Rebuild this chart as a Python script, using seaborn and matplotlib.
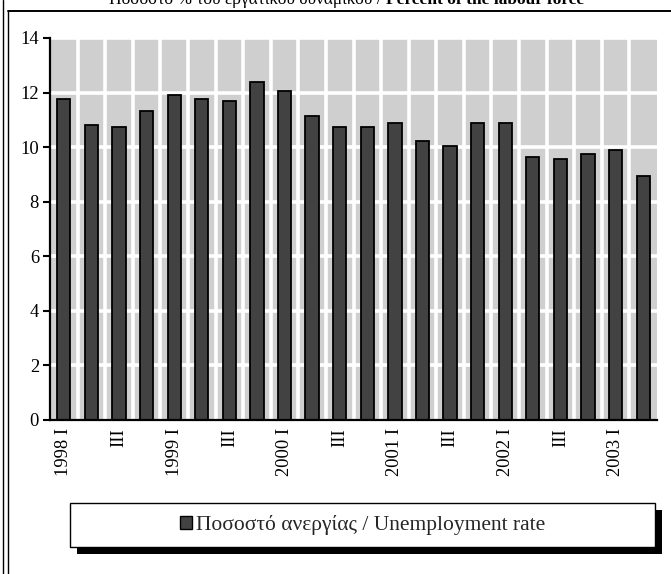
import matplotlib
matplotlib.use("Agg")
import matplotlib.pyplot as plt
import seaborn as sns
import pandas as pd
from matplotlib.patches import Rectangle
from matplotlib.lines import Line2D

quarters = ["1998 I", "1998 II", "1998 III", "1998 IV",
            "1999 I", "1999 II", "1999 III", "1999 IV",
            "2000 I", "2000 II", "2000 III", "2000 IV",
            "2001 I", "2001 II", "2001 III", "2001 IV",
            "2002 I", "2002 II", "2002 III", "2002 IV",
            "2003 I", "2003 II"]
rates = [11.75, 10.8, 10.72, 11.33, 11.9, 11.75, 11.68, 12.4, 12.07, 11.15,
         10.72, 10.72, 10.9, 10.22, 10.05, 10.9, 10.9, 9.63, 9.55, 9.75,
         9.88, 8.95]
tick_labels = ["1998 I", "", "III", "", "1999 I", "", "III", "",
               "2000 I", "", "III", "", "2001 I", "", "III", "",
               "2002 I", "", "III", "", "2003 I", ""]
title_gr = "Ποσοστό % του εργατικού δυναμικού / "
title_en = "Percent of the labour force"
legend_label = "Ποσοστό ανεργίας / Unemployment rate"

sns.set_theme(style="white")
plt.rcParams["font.family"] = ["Liberation Serif", "DejaVu Serif"]

W, H = 671, 574
fig = plt.figure(figsize=(W / 100, H / 100), dpi=100)
ax = fig.add_axes([50 / W, 1 - 420 / H, 607 / W, 382 / H])

df = pd.DataFrame({"q": quarters, "v": rates})
sns.barplot(data=df, x="q", y="v", color="#404040", width=0.48,
            edgecolor="black", linewidth=1.3, saturation=1, ax=ax, zorder=3)
for p in ax.patches:
    p.set_facecolor("#424242")
    p.set_edgecolor("black")

ax.set_facecolor("#cfcfcf")
ax.set_xlim(-0.5, len(quarters) - 0.5)
ax.set_ylim(0, 14)
ax.set_yticks(range(0, 15, 2))
ax.set_xticks(range(len(quarters)))
ax.set_xticklabels(tick_labels, rotation=90, fontsize=13.3)
ax.tick_params(axis="y", labelsize=13.3, length=5, width=1.5, direction="out",
               left=True, color="black", pad=3)
ax.tick_params(axis="x", length=0, pad=6)
ax.set_xlabel("")
ax.set_ylabel("")
for lbl in ax.get_xticklabels() + ax.get_yticklabels():
    lbl.set_color("black")

# white grid lines (horizontal at ticks, vertical between categories)
for yv in range(2, 15, 2):
    ax.axhline(yv, color="white", lw=2.6, zorder=1)
for i in range(len(quarters) - 1):
    ax.axvline(i + 0.5, color="white", lw=2.6, zorder=1)

for s in ["top", "right"]:
    ax.spines[s].set_visible(False)
for s in ["left", "bottom"]:
    ax.spines[s].set_color("black")
    ax.spines[s].set_linewidth(1.6)
    ax.spines[s].set_zorder(5)

# title (cut at top, as in the reference)
split_x = 386 / W
fig.text(split_x, 1 - 4 / H, title_gr, ha="right", va="baseline",
         fontsize=12.5, color="black")
fig.text(split_x, 1 - 4 / H, title_en, ha="left", va="baseline",
         fontsize=12.5, fontweight="bold", color="black")

# figure frame lines
fig.add_artist(Line2D([2.5 / W, 2.5 / W], [0, 1], color="black", lw=1.0, transform=fig.transFigure))
fig.add_artist(Line2D([7.5 / W, 7.5 / W], [0, 1 - 11 / H], color="black", lw=1.0, transform=fig.transFigure))
fig.add_artist(Line2D([7.5 / W, 1], [1 - 11 / H, 1 - 11 / H], color="black", lw=1.4, transform=fig.transFigure))

# legend box with shadow
lx0, lx1, ly0, ly1 = 70, 655, 503, 547
fig.add_artist(Rectangle(((lx0 + 7) / W, 1 - (ly1 + 7) / H), (lx1 - lx0) / W, (ly1 - ly0) / H,
                         facecolor="black", edgecolor="none", transform=fig.transFigure, zorder=1))
fig.add_artist(Rectangle((lx0 / W, 1 - ly1 / H), (lx1 - lx0) / W, (ly1 - ly0) / H,
                         facecolor="white", edgecolor="black", lw=1.0, transform=fig.transFigure, zorder=2))
handle = Rectangle((0, 0), 1, 1, facecolor="#424242", edgecolor="black", lw=1.0)
leg = fig.legend([handle], [legend_label], loc="center",
                 bbox_to_anchor=((lx0 + lx1) / 2 / W, 1 - (ly0 + ly1) / 2 / H),
                 frameon=False, fontsize=15.5, handlelength=0.55, handleheight=0.55,
                 handletextpad=0.2)
leg.set_zorder(3)

fig.savefig("out.png", dpi=100)
